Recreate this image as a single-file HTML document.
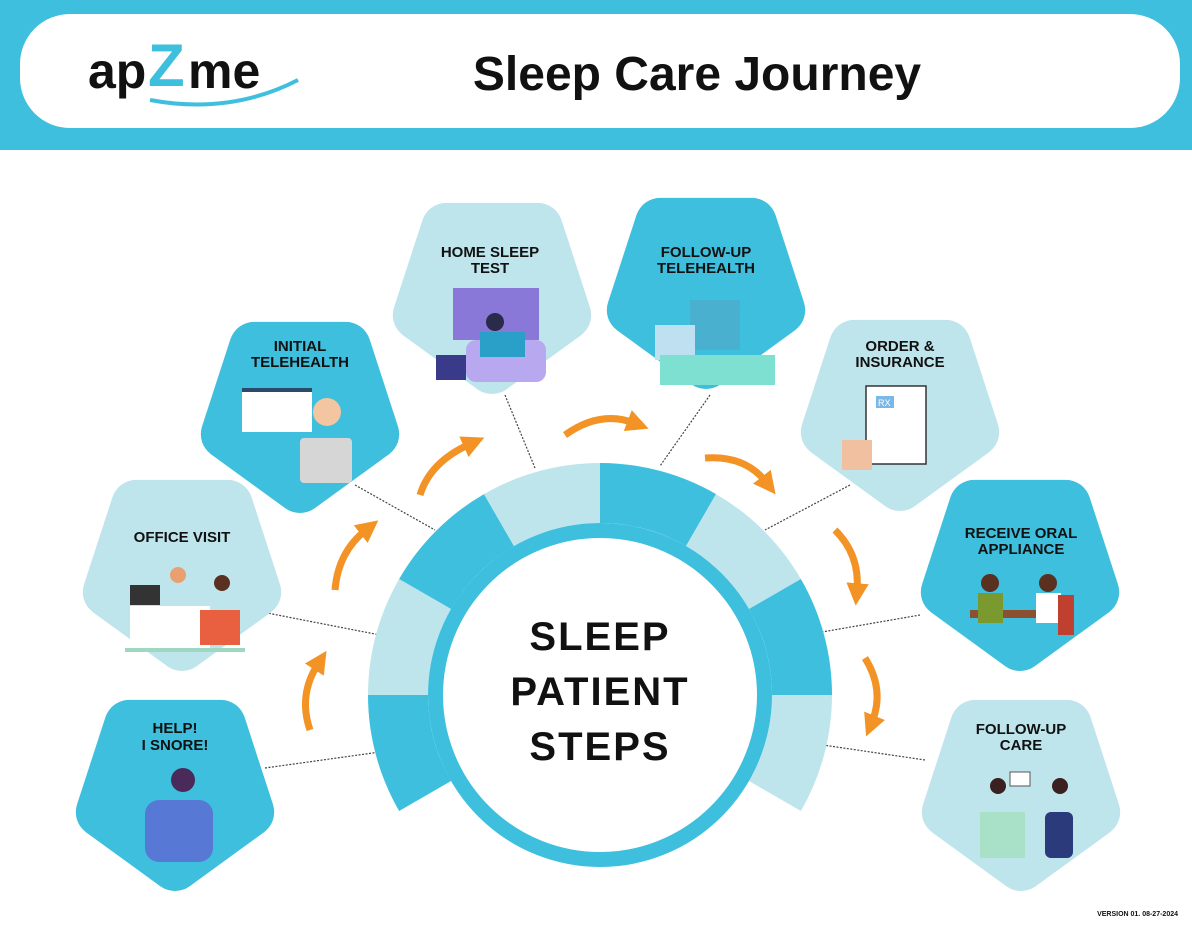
<!DOCTYPE html>
<html><head><meta charset="utf-8"><style>
html,body{margin:0;padding:0;background:#fff}
svg{display:block}
text{font-family:"Liberation Sans",sans-serif}
</style></head><body>
<svg width="1192" height="929" viewBox="0 0 1192 929" xmlns="http://www.w3.org/2000/svg">
<defs>
<marker id="ah" viewBox="0 0 10 10" refX="3" refY="5" markerWidth="3.2" markerHeight="3.2" orient="auto" markerUnits="strokeWidth">
<path d="M0,0 L10,5 L0,10 z" fill="#f39325"/></marker>
<g id="pent"><polygon points="0,78 74.2,24.1 45.8,-63.1 -45.8,-63.1 -74.2,24.1" stroke-width="50" stroke-linejoin="round"/></g>
</defs>
<rect x="0" y="0" width="1192" height="150" fill="#3dbfdd"/>
<rect x="20" y="14" width="1160" height="114" rx="50" fill="#fff"/>
<text x="88" y="88" font-size="50" font-weight="bold" fill="#111">ap</text>
<text x="148" y="86" font-size="60" font-weight="bold" fill="#3dbfdd">Z</text>
<text x="188" y="88" font-size="50" font-weight="bold" fill="#111">me</text>
<path d="M150,100 Q230,115 298,80" stroke="#3dbfdd" stroke-width="4" fill="none"/>
<text x="697" y="90" font-size="48" font-weight="bold" fill="#111" text-anchor="middle">Sleep Care Journey</text>

<g stroke="#444" stroke-width="1.2" stroke-dasharray="2,1.5" fill="none">
<line x1="265" y1="768" x2="380" y2="752"/>
<line x1="262" y1="612" x2="380" y2="635"/>
<line x1="355" y1="485" x2="435" y2="530"/>
<line x1="505" y1="395" x2="535" y2="468"/>
<line x1="710" y1="395" x2="660" y2="466"/>
<line x1="850" y1="485" x2="765" y2="530"/>
<line x1="920" y1="615" x2="822" y2="632"/>
<line x1="925" y1="760" x2="823" y2="745"/>
</g>

<use href="#pent" transform="translate(175,788)" fill="#3dbfdd" stroke="#3dbfdd"/>
<use href="#pent" transform="translate(182,568)" fill="#bfe5ec" stroke="#bfe5ec"/>
<use href="#pent" transform="translate(300,410)" fill="#3dbfdd" stroke="#3dbfdd"/>
<use href="#pent" transform="translate(492,291)" fill="#bfe5ec" stroke="#bfe5ec"/>
<use href="#pent" transform="translate(706,286)" fill="#3dbfdd" stroke="#3dbfdd"/>
<use href="#pent" transform="translate(900,408)" fill="#bfe5ec" stroke="#bfe5ec"/>
<use href="#pent" transform="translate(1020,568)" fill="#3dbfdd" stroke="#3dbfdd"/>
<use href="#pent" transform="translate(1021,788)" fill="#bfe5ec" stroke="#bfe5ec"/>

<g>
<circle cx="183" cy="780" r="12" fill="#4a2a5a"/><rect x="145" y="800" width="68" height="62" rx="14" fill="#5878d6"/>
<rect x="130" y="585" width="30" height="20" fill="#333"/><rect x="130" y="606" width="80" height="42" fill="#fff"/><circle cx="178" cy="575" r="8" fill="#e8a070"/><circle cx="222" cy="583" r="8" fill="#5a3020"/><rect x="200" y="610" width="40" height="35" fill="#e86040"/><rect x="125" y="648" width="120" height="4" fill="#9fd8c0"/>
<rect x="242" y="388" width="70" height="44" fill="#fff"/><rect x="242" y="388" width="70" height="4" fill="#2a4a6a"/><circle cx="327" cy="412" r="14" fill="#f3c5a0"/><rect x="300" y="438" width="52" height="45" rx="4" fill="#d6d6d6"/>
<rect x="453" y="288" width="86" height="52" fill="#8a78d8"/><rect x="436" y="355" width="30" height="25" fill="#3a3a8a"/><rect x="466" y="340" width="80" height="42" rx="10" fill="#b8a8f0"/><circle cx="495" cy="322" r="9" fill="#2a2a4a"/><rect x="480" y="332" width="45" height="25" fill="#2aa0c8"/>
<rect x="690" y="300" width="50" height="50" fill="#4ab0d0"/><rect x="655" y="325" width="40" height="35" fill="#bfe0f0"/><rect x="660" y="355" width="115" height="30" fill="#7ee0d0"/>
<rect x="866" y="386" width="60" height="78" fill="#fff" stroke="#333" stroke-width="1.5"/><rect x="876" y="396" width="18" height="12" fill="#7ab8e8"/><text x="878" y="406" font-size="9" fill="#fff">RX</text><rect x="842" y="440" width="30" height="30" fill="#f0c0a0"/>
<rect x="970" y="610" width="95" height="8" fill="#8a5030"/><circle cx="990" cy="583" r="9" fill="#5a3020"/><rect x="978" y="593" width="25" height="30" fill="#7a9a30"/><circle cx="1048" cy="583" r="9" fill="#5a3020"/><rect x="1036" y="593" width="25" height="30" fill="#fff"/><rect x="1058" y="595" width="16" height="40" fill="#c04030"/>
<rect x="980" y="812" width="45" height="46" fill="#a8e0c8"/><circle cx="998" cy="786" r="8" fill="#3a2020"/><circle cx="1060" cy="786" r="8" fill="#3a2020"/><rect x="1045" y="812" width="28" height="46" rx="6" fill="#2a3a7a"/><rect x="1010" y="772" width="20" height="14" fill="#fff" stroke="#555"/>
</g>

<g font-size="15" font-weight="bold" fill="#111" text-anchor="middle">
<text x="175" y="733">HELP!</text><text x="175" y="750">I SNORE!</text>
<text x="182" y="542">OFFICE VISIT</text>
<text x="300" y="351">INITIAL</text><text x="300" y="367">TELEHEALTH</text>
<text x="490" y="257">HOME SLEEP</text><text x="490" y="273">TEST</text>
<text x="706" y="257">FOLLOW-UP</text><text x="706" y="273">TELEHEALTH</text>
<text x="900" y="351">ORDER &amp;</text><text x="900" y="367">INSURANCE</text>
<text x="1021" y="538">RECEIVE ORAL</text><text x="1021" y="554">APPLIANCE</text>
<text x="1021" y="734">FOLLOW-UP</text><text x="1021" y="750">CARE</text>
</g>

<g fill="none" stroke-width="60">
<path d="M425.1,796 A202,202 0 0 1 398,695" stroke="#3dbfdd"/>
<path d="M398,695 A202,202 0 0 1 425.1,594" stroke="#bfe5ec"/>
<path d="M425.1,594 A202,202 0 0 1 499,520.1" stroke="#3dbfdd"/>
<path d="M499,520.1 A202,202 0 0 1 600,493" stroke="#bfe5ec"/>
<path d="M600,493 A202,202 0 0 1 701,520.1" stroke="#3dbfdd"/>
<path d="M701,520.1 A202,202 0 0 1 774.9,594" stroke="#bfe5ec"/>
<path d="M774.9,594 A202,202 0 0 1 802,695" stroke="#3dbfdd"/>
<path d="M802,695 A202,202 0 0 1 774.9,796" stroke="#bfe5ec"/>
</g>
<circle cx="600" cy="695" r="164.5" fill="#fff" stroke="#3dbfdd" stroke-width="15"/>
<g font-size="40" font-weight="bold" fill="#111" text-anchor="middle" letter-spacing="2">
<text x="600" y="650">SLEEP</text><text x="600" y="705">PATIENT</text><text x="600" y="760">STEPS</text>
</g>

<g stroke="#f39325" stroke-width="7" fill="none" marker-end="url(#ah)">
<path d="M310,730 Q298,695 318,664"/>
<path d="M335,590 Q338,552 366,530"/>
<path d="M420,495 Q430,462 470,444"/>
<path d="M565,435 Q600,410 634,423"/>
<path d="M705,458 Q745,455 766,482"/>
<path d="M835,530 Q860,555 857,590"/>
<path d="M865,658 Q885,690 872,722"/>
</g>

<text x="1178" y="916" font-size="7" font-weight="bold" fill="#111" text-anchor="end">VERSION 01. 08-27-2024</text>
</svg>
</body></html>
